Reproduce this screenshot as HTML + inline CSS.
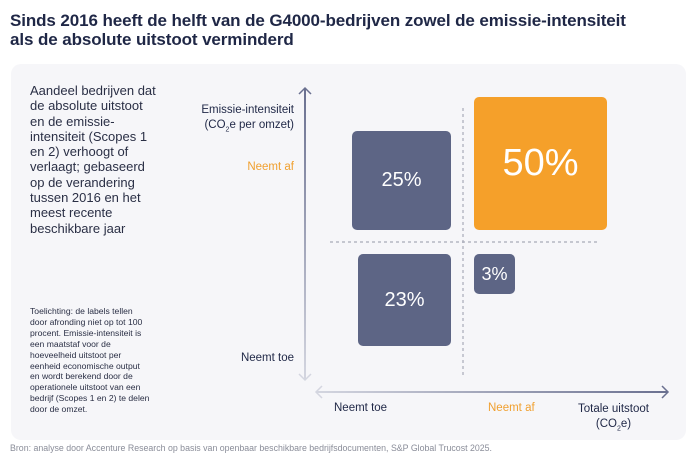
<!DOCTYPE html>
<html><head><meta charset="utf-8"><style>
*{margin:0;padding:0;box-sizing:border-box}
body{width:696px;height:464px;background:#fff;font-family:"Liberation Sans",sans-serif;position:relative;overflow:hidden;color:#1f2746}
.a{position:absolute;white-space:nowrap}
h1{position:absolute;left:10px;top:11px;font-size:17px;line-height:19px;font-weight:bold;color:#1f2746;letter-spacing:-0.1px}
.panel{position:absolute;left:11px;top:64px;width:675px;height:376px;background:#f6f6f9;border-radius:10px}
.box{position:absolute;background:#5d6585;border-radius:5px;color:#fff;display:flex;align-items:center;justify-content:center}
.r{text-align:right}
</style></head><body>
<h1>Sinds 2016 heeft de helft van de G4000-bedrijven zowel de emissie-intensiteit<br>als de absolute uitstoot verminderd</h1>
<div class="panel"></div>
<div class="a" style="left:30px;top:83px;font-size:13px;line-height:15.3px;color:#2a2f45">Aandeel bedrijven dat<br>de absolute uitstoot<br>en de emissie-<br>intensiteit (Scopes 1<br>en 2) verhoogt of<br>verlaagt; gebaseerd<br>op de verandering<br>tussen 2016 en het<br>meest recente<br>beschikbare jaar</div>
<div class="a" style="left:30px;top:306px;font-size:8.6px;line-height:10.9px;color:#2a2f45">Toelichting: de labels tellen<br>door afronding niet op tot 100<br>procent. Emissie-intensiteit is<br>een maatstaf voor de<br>hoeveelheid uitstoot per<br>eenheid economische output<br>en wordt berekend door de<br>operationele uitstoot van een<br>bedrijf (Scopes 1 en 2) te delen<br>door de omzet.</div>
<div class="a r" style="right:402px;top:103px;font-size:11.5px;line-height:15px">Emissie-intensiteit<br>(CO<sub style="font-size:7px">2</sub>e per omzet)</div>
<div class="a r" style="right:402px;top:161px;font-size:11.5px;color:#f0a030">Neemt af</div>
<div class="a r" style="right:402px;top:352px;font-size:11.5px">Neemt toe</div>
<div class="a" style="left:334px;top:402px;font-size:11.5px">Neemt toe</div>
<div class="a" style="left:488px;top:402px;font-size:11.5px;color:#f0a030">Neemt af</div>
<div class="a" style="left:578px;top:402px;font-size:11.5px;line-height:15px;text-align:center">Totale uitstoot<br>(CO<sub style="font-size:7px">2</sub>e)</div>
<svg style="position:absolute;left:0;top:0" width="696" height="464">
<defs>
<linearGradient id="gv" x1="0" y1="0" x2="0" y2="1"><stop offset="0" stop-color="#6a7090"/><stop offset="1" stop-color="#d4d6e0"/></linearGradient>
<linearGradient id="gh" x1="0" y1="0" x2="1" y2="0"><stop offset="0" stop-color="#d4d6e0"/><stop offset="1" stop-color="#6a7090"/></linearGradient>
</defs>
<rect x="304" y="88" width="2" height="292" fill="url(#gv)"/>
<polyline points="299,94 305,88 311,94" fill="none" stroke="#6a7090" stroke-width="1.5"/>
<polyline points="299,374 305,380 311,374" fill="none" stroke="#d4d6e0" stroke-width="1.5"/>
<rect x="316" y="391" width="352" height="2" fill="url(#gh)"/>
<polyline points="322,386 316,392 322,398" fill="none" stroke="#d4d6e0" stroke-width="1.5"/>
<polyline points="662,386 668,392 662,398" fill="none" stroke="#6a7090" stroke-width="1.5"/>
<line x1="463" y1="108" x2="463" y2="376" stroke="#a8abb8" stroke-width="1.2" stroke-dasharray="3,3"/>
<line x1="330" y1="242" x2="598" y2="242" stroke="#a8abb8" stroke-width="1.2" stroke-dasharray="3,3"/>
</svg>
<div class="box" style="left:352px;top:131px;width:99px;height:99px;font-size:20px">25%</div>
<div class="box" style="left:474px;top:97px;width:133px;height:133px;background:#f5a02a;font-size:38px">50%</div>
<div class="box" style="left:358px;top:254px;width:93px;height:92px;font-size:20px">23%</div>
<div class="box" style="left:474px;top:254px;width:41px;height:40px;font-size:18px">3%</div>
<div class="a" style="left:10px;top:443px;font-size:8.8px;color:#8a8d99">Bron: analyse door Accenture Research op basis van openbaar beschikbare bedrijfsdocumenten, S&amp;P Global Trucost 2025.</div>
</body></html>
